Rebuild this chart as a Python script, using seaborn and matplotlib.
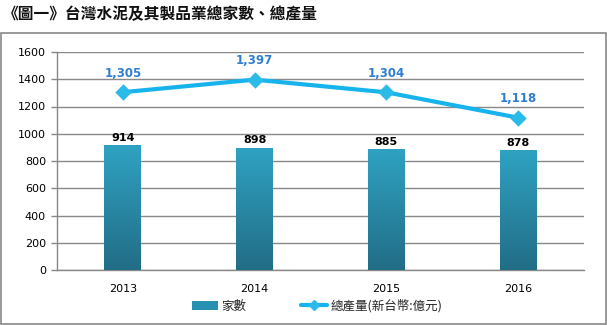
import matplotlib
matplotlib.use("Agg")
import matplotlib.pyplot as plt
import seaborn as sns
import numpy as np
import pandas as pd
from matplotlib.patches import Patch, Rectangle
from matplotlib.lines import Line2D
from matplotlib.colors import LinearSegmentedColormap

years = ["2013", "2014", "2015", "2016"]
companies = [914, 898, 885, 878]
output = [1305, 1397, 1304, 1118]
title = "《圖一》台灣水泥及其製品業總家數、總產量"
bar_label = "家數"
line_label = "總產量(新台幣:億元)"
yticks = [0, 200, 400, 600, 800, 1000, 1200, 1400, 1600]

sns.set_theme(style="white")
plt.rcParams['font.family'] = ['DejaVu Sans', 'Noto Sans CJK TC']
cjk = ['Noto Sans CJK TC', 'DejaVu Sans']

df = pd.DataFrame({"year": years, "companies": companies, "output": output})

fig = plt.figure(figsize=(6.07, 3.25), dpi=100)
ax = fig.add_axes([57/607, 55/325, (584-57)/607, (270-52)/325])

bar_top = "#2fa2c2"
bar_bot = "#226d86"
line_c = "#17b3ec"
sns.barplot(data=df, x="year", y="companies", color=bar_top, width=0.28,
            saturation=1, ax=ax, zorder=3)
cmap = LinearSegmentedColormap.from_list("g", [bar_bot, bar_top])
grad = np.linspace(0, 1, 256).reshape(-1, 1)
for p in ax.patches:
    x0, y0 = p.get_x(), p.get_y()
    w, h = p.get_width(), p.get_height()
    im = ax.imshow(grad, cmap=cmap, origin="lower", aspect="auto",
                   extent=[x0, x0 + w, y0, y0 + h], zorder=3)
    im.set_clip_path(p)
    p.set_facecolor("none")
    p.set_edgecolor("none")

sns.pointplot(data=df, x="year", y="output", color=line_c, markers="D",
              linewidth=3, markersize=6, ax=ax, zorder=4,
              markerfacecolor="#2bbbe8", markeredgecolor="#2bbbe8")

for i, v in enumerate(companies):
    ax.annotate(f"{v:,}", (i, v), xytext=(0, 2), textcoords="offset points",
                ha="center", va="bottom", fontsize=8, fontweight="bold", color="black", zorder=5)
for i, v in enumerate(output):
    ax.annotate(f"{v:,}", (i, v), xytext=(0, 9), textcoords="offset points",
                ha="center", va="bottom", fontsize=8.5, fontweight="bold", color="#2f7fd0", zorder=5)

ax.set_xlim(-0.5, 3.5)
ax.set_ylim(0, 1600)
ax.set_yticks(yticks)
ax.set_yticklabels([str(t) for t in yticks], fontsize=8, color="black")
ax.set_xticks(range(len(years)))
ax.set_xticklabels(years, fontsize=8, color="black")
ax.set_xticks([0.5, 1.5, 2.5, 3.5], minor=True)
ax.tick_params(axis="x", which="major", length=0, pad=10)
ax.tick_params(axis="x", which="minor", length=4, width=1, color="#888888", direction="out")
ax.tick_params(axis="y", which="major", length=4, width=1, color="#888888", direction="out", left=True, pad=4)
ax.set_xlabel("")
ax.set_ylabel("")
ax.yaxis.grid(True, color="#888888", linewidth=1, zorder=0)
ax.set_axisbelow(True)
for s in ["top", "right"]:
    ax.spines[s].set_visible(False)
for s in ["left", "bottom"]:
    ax.spines[s].set_color("#888888")
    ax.spines[s].set_linewidth(1)

fig.text(3/607, 1 - 14/325, title, family=cjk, fontsize=11.3, fontweight="bold",
         ha="left", va="center", color="#111111")

border = Rectangle((1.5/607, 1 - 323.5/325), 604.5/607, (323.5-32.5)/325,
                   transform=fig.transFigure, fill=False, edgecolor="#888888", linewidth=1.2)
fig.patches.append(border)

handles = [Patch(facecolor="#2890b0", edgecolor="none", label=bar_label),
           Line2D([0], [0], color=line_c, linewidth=3, marker="D", markersize=5,
                  markerfacecolor="#2bbbe8", markeredgecolor="#2bbbe8", label=line_label)]
leg = fig.legend(handles=handles, loc="center", bbox_to_anchor=(317/607, 1 - 306/325),
                 ncol=2, frameon=False, prop={"family": cjk, "size": 9},
                 handlelength=2.1, handleheight=0.7, handletextpad=0.25, columnspacing=4.4)

fig.savefig("out.png", dpi=100)
